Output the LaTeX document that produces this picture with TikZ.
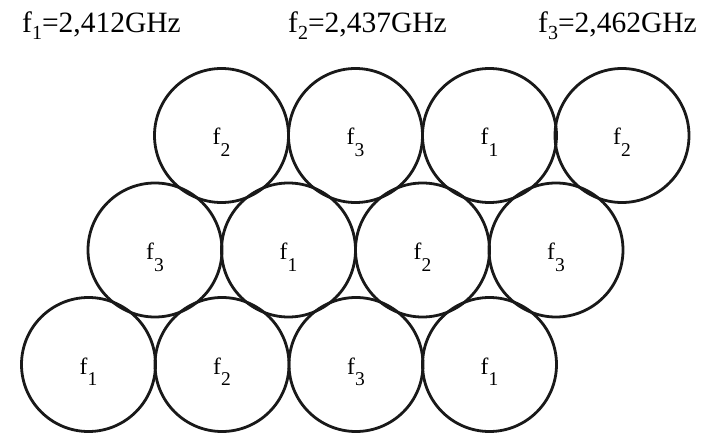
\documentclass[tikz,border=0pt]{standalone}
\usepackage{fontspec}
\setmainfont{Liberation Serif}
\newcommand\hsub[1]{f\raisebox{-7pt}{\fontsize{20}{20}\selectfont #1}}
\newcommand\csub[1]{f\raisebox{-11.5pt}{\fontsize{19.5}{20}\selectfont #1}}
\begin{document}
\begin{tikzpicture}[x=1pt,y=-1pt,
  cell/.style={draw=black!90, line width=2.8pt, circle, minimum size=134pt, inner sep=0pt,
    font=\fontsize{23.5}{26}\selectfont, text height=19pt, text depth=0pt},
  head/.style={anchor=base west, inner sep=0pt, font=\fontsize{29.5}{34}\selectfont}]
\useasboundingbox (0,0) rectangle (709,433);
\node[head] (h1) at (22,33) {\hsub{1}=2,412GHz};
\node[head] (h2) at (288,33) {\hsub{2}=2,437GHz};
\node[head] (h3) at (538,33) {\hsub{3}=2,462GHz};
% top row
\node[cell] (a1) at (221.5,135.5) {\csub{2}};
\node[cell] (a2) at (355.5,135.5) {\csub{3}};
\node[cell] (a3) at (489.5,135.5) {\csub{1}};
\node[cell] (a4) at (622,135.5) {\csub{2}};
% middle row
\node[cell] (b1) at (155,250) {\csub{3}};
\node[cell] (b2) at (288.5,250) {\csub{1}};
\node[cell] (b3) at (422.5,250) {\csub{2}};
\node[cell] (b4) at (556,250) {\csub{3}};
% bottom row
\node[cell] (c1) at (88.5,364.5) {\csub{1}};
\node[cell] (c2) at (222,364.5) {\csub{2}};
\node[cell] (c3) at (356,364.5) {\csub{3}};
\node[cell] (c4) at (489.5,364.5) {\csub{1}};
\end{tikzpicture}
\end{document}
